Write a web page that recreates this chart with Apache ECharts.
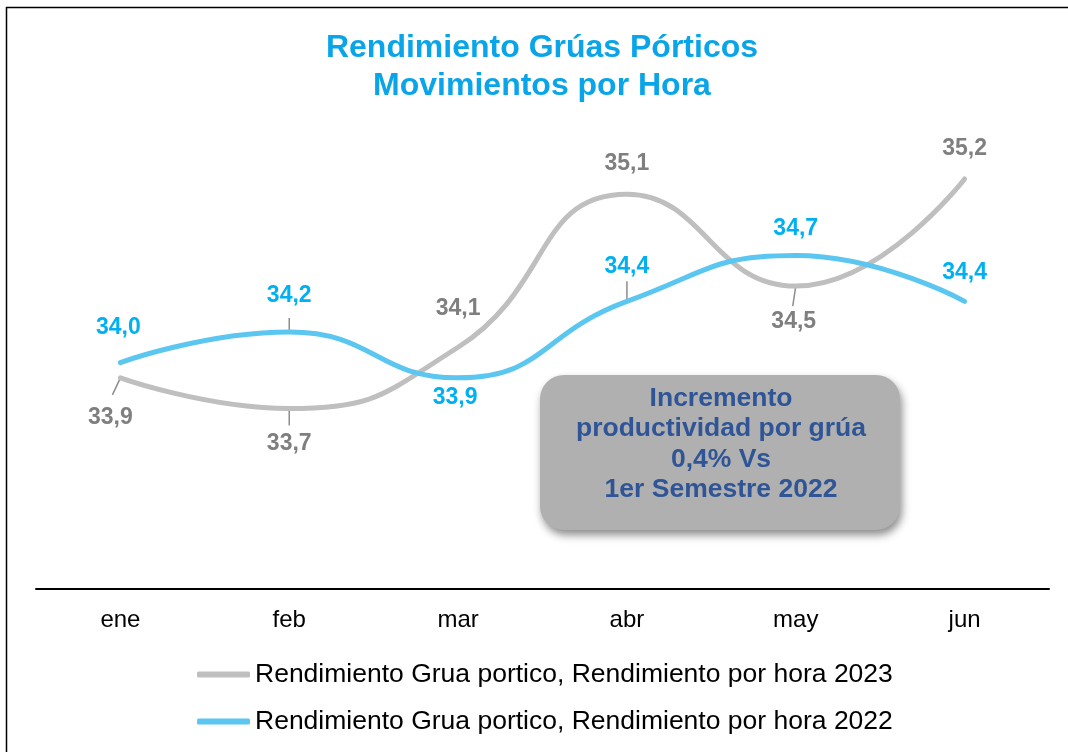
<!DOCTYPE html>
<html>
<head>
<meta charset="utf-8">
<title>Rendimiento Grúas Pórticos</title>
<script src="https://cdn.jsdelivr.net/npm/echarts@6/dist/echarts.min.js"></script>
<style>
  html, body { margin: 0; padding: 0; background: #fff; }
  #chart { width: 1068px; height: 752px; }
</style>
</head>
<body>
<div id="chart"></div>
<script>
  // datos
  const meses = ['ene', 'feb', 'mar', 'abr', 'may', 'jun'];
  const rend2023 = [33.9, 33.7, 34.1, 35.1, 34.5, 35.2];
  const rend2022 = [34.0, 34.2, 33.9, 34.4, 34.7, 34.4];
  const nombre2023 = 'Rendimiento Grua portico, Rendimiento por hora 2023';
  const nombre2022 = 'Rendimiento Grua portico, Rendimiento por hora 2022';
  const titulo = 'Rendimiento Grúas Pórticos\nMovimientos por Hora';
  const nota = 'Incremento\nproductividad por grúa\n0,4% Vs\n1er Semestre 2022';

  // colocacion de etiquetas (solo estilo)
  const pos2023 = ['bottom', 'bottom', 'top', 'top', 'bottom', 'top'];
  const dist2023 = [27, 23, 26, 18, 23, 18];
  const dx2023 = [-10, 0, 0, 0, -2, 0];
  const pos2022 = ['top', 'top', 'bottom', 'top', 'top', 'top'];
  const dist2022 = [22, 24, 7, 22, 14, 16];
  const dx2022 = [-2, 0, -3, 0, 0, 0];
  // lineas guia: [serie, indice, dx, dy] en pixeles desde el punto
  const guias = [
    [0, 0, -8, 17],
    [0, 1, 0, 17],
    [0, 4, -3, 20],
    [1, 1, 0, -14],
    [1, 3, 0, -20]
  ];

  const fuente = 'Arial, "Liberation Sans", sans-serif';
  const gris = '#BFBFBF';
  const azul = '#5BC6F0';

  function fmt(p) {
    return p.value.toFixed(1).replace('.', ',');
  }

  function puntos(vals, pos, dist, dx) {
    return vals.map((v, i) => ({
      value: v,
      label: { position: pos[i], distance: dist[i], offset: [dx[i], 0] }
    }));
  }

  const series = [rend2023, rend2022];

  let myChart = echarts.init(document.getElementById('chart'));
  let option = {
    animation: false,
    backgroundColor: '#fff',
    legend: {
      orient: 'vertical',
      left: 197,
      top: 661,
      padding: 0,
      icon: 'roundRect',
      itemWidth: 53,
      itemHeight: 6,
      itemGap: 20,
      data: [nombre2023, nombre2022],
      textStyle: { fontFamily: fuente, fontSize: 26.5, color: '#000' }
    },
    grid: { left: 36, right: 19, top: 53.5, bottom: 163 },
    xAxis: {
      type: 'category',
      data: meses,
      boundaryGap: true,
      axisLine: { lineStyle: { color: '#000', width: 2 } },
      axisTick: { show: false },
      axisLabel: { fontFamily: fuente, fontSize: 24, color: '#000', margin: 19 }
    },
    yAxis: {
      type: 'value',
      min: 32.52,
      max: 36.02,
      show: false,
      splitLine: { show: false }
    },
    series: [
      {
        name: nombre2023,
        type: 'line',
        smooth: 0.5,
        symbol: 'circle',
        symbolSize: 2,
        showSymbol: true,
        z: 3,
        itemStyle: { color: gris },
        lineStyle: { color: gris, width: 5, cap: 'round' },
        label: {
          show: true,
          formatter: fmt,
          fontFamily: fuente,
          fontSize: 23,
          fontWeight: 'bold',
          color: '#7F7F7F'
        },
        data: puntos(rend2023, pos2023, dist2023, dx2023)
      },
      {
        name: nombre2022,
        type: 'line',
        smooth: 0.5,
        symbol: 'circle',
        symbolSize: 2,
        showSymbol: true,
        z: 4,
        itemStyle: { color: azul },
        lineStyle: { color: azul, width: 5, cap: 'round' },
        label: {
          show: true,
          formatter: fmt,
          fontFamily: fuente,
          fontSize: 23,
          fontWeight: 'bold',
          color: '#00B0F0'
        },
        data: puntos(rend2022, pos2022, dist2022, dx2022)
      },
      {
        type: 'custom',
        silent: true,
        z: 2,
        data: guias.map(g => [g[1], series[g[0]][g[1]]]),
        renderItem: function (params, api) {
          const g = guias[params.dataIndex];
          const p = api.coord([api.value(0), api.value(1)]);
          return {
            type: 'line',
            shape: { x1: p[0], y1: p[1], x2: p[0] + g[2], y2: p[1] + g[3] },
            style: { stroke: '#8C8C8C', lineWidth: 1.5 }
          };
        }
      }
    ],
    graphic: [
      // titulo
      {
        type: 'text',
        x: 542,
        y: 29,
        z: 10,
        style: {
          text: titulo,
          align: 'center',
          verticalAlign: 'top',
          fontFamily: fuente,
          fontSize: 32,
          fontWeight: 'bold',
          lineHeight: 38,
          fill: '#0AA5E8'
        }
      },
      // marco superior e izquierdo
      { type: 'line', shape: { x1: 6, y1: 7.5, x2: 1068, y2: 7.5 }, style: { stroke: '#000', lineWidth: 1.5 }, z: 10 },
      { type: 'line', shape: { x1: 6.5, y1: 7, x2: 6.5, y2: 752 }, style: { stroke: '#000', lineWidth: 1.5 }, z: 10 },
      {
        type: 'group',
        left: 540,
        top: 375,
        z: 20,
        children: [
          {
            type: 'rect',
            shape: { x: 0, y: 0, width: 360, height: 155, r: 24 },
            style: {
              fill: '#B0B0B0',
              shadowBlur: 8,
              shadowOffsetX: 2,
              shadowOffsetY: 5,
              shadowColor: 'rgba(0,0,0,0.45)'
            }
          },
          {
            type: 'text',
            x: 181,
            y: 69,
            style: {
              text: nota,
              align: 'center',
              verticalAlign: 'middle',
              fontFamily: fuente,
              fontSize: 26.5,
              fontWeight: 'bold',
              lineHeight: 30.5,
              fill: '#2F5597'
            }
          }
        ]
      }
    ]
  };
  myChart.setOption(option);
</script>
</body>
</html>
